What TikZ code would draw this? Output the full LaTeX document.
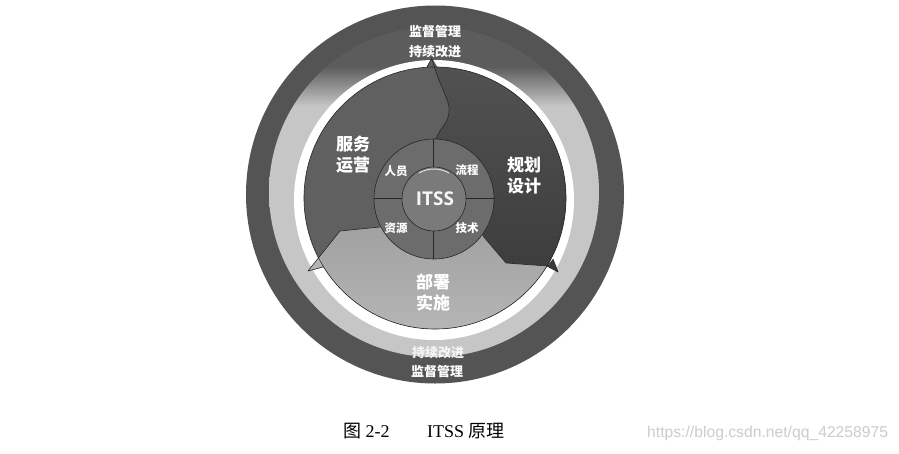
\documentclass[tikz,border=0pt]{standalone}
\usepackage{fontspec}
\setmainfont{Liberation Serif}
\newfontfamily\cjk{Noto Sans CJK SC}
\newfontfamily\itssfont{Open Sans}
\newfontfamily\wmfont{Liberation Sans}
\definecolor{outerdark}{HTML}{545454}
\definecolor{ringlight}{HTML}{C6C6C6}
\definecolor{ringdark}{HTML}{5C5C5C}
\definecolor{opsgray}{HTML}{606060}
\definecolor{plantop}{HTML}{585858}
\definecolor{planbot}{HTML}{3A3A3A}
\definecolor{deptop}{HTML}{9C9C9C}
\definecolor{depbot}{HTML}{B8B8B8}
\definecolor{innerring}{HTML}{6C6C6C}
\definecolor{itssgray}{HTML}{7A7A7A}
\definecolor{edgecol}{HTML}{262626}
\pgfdeclareverticalshading{ringshade}{100bp}{color(0bp)=(ringlight); color(63bp)=(ringlight); color(69bp)=(ringdark); color(100bp)=(ringdark)}
\tikzset{
  ringtxt/.style={font=\cjk\bfseries\fontsize{13}{13}\selectfont, text=white, inner sep=0pt},
  bigtxt/.style={font=\cjk\bfseries\fontsize{17}{21}\selectfont, text=white, align=center, inner sep=0pt},
  smalltxt/.style={font=\cjk\bfseries\fontsize{11.5}{12}\selectfont, text=white, inner sep=0pt},
  edge/.style={draw=edgecol, line width=0.6pt, line join=round},
}
\begin{document}
\begin{tikzpicture}[x=1pt,y=-1pt]
\useasboundingbox (0,0) rectangle (899,453);
\fill[white] (0,0) rectangle (899,453);
% rings
\fill[outerdark] (435,194.5) circle (189);
\shade[shading=ringshade] (434,192) circle (165);
\fill[white] (434,200) circle (140);
% disk
\coordinate (dc) at (435,198);
\fill[opsgray] (dc) circle (131);
\begin{scope}
  \clip (dc) circle (131);
  \shade[top color=plantop, bottom color=planbot]
    (432,0) -- plot[smooth, tension=0.6] coordinates {(432,59) (437,75) (444,92) (449,107) (447,120) (440,131) (435,141)}
    -- (434,199) -- (483,236) -- (506,263) -- (547,266) -- (558,272) -- (620,300) -- (620,0) -- cycle;
  \shade[top color=deptop, bottom color=depbot]
    (308,271) -- (340,231) -- (380,227) -- (434,199) -- (483,236) -- (506,263) -- (547,266) -- (558,272)
    -- (600,345) -- (270,345) -- cycle;
\end{scope}
% arrow tips
\fill[opsgray] (432,58) -- (426,68) -- (438,68) -- cycle;
\fill[depbot!85!deptop] (318,259) -- (308,271) -- (323,267) -- cycle;
\fill[planbot] (547,266) -- (558,272) -- (553,259) -- cycle;
% edges
\draw[edge] (dc) circle (131);
\draw[edge] plot[smooth, tension=0.6] coordinates {(432,59) (437,75) (444,92) (449,107) (447,120) (440,131) (435,141)};
\draw[edge] (432,58) -- (427,67);
\draw[edge] (323,267) -- (308,271) -- (340,231) -- (380,227);
\draw[edge] (483,236) -- (506,263) -- (547,266) -- (558,272) -- (553,259);
% inner ring
\coordinate (ic) at (434,199);
\fill[innerring] (ic) circle (60);
\draw[edge] (ic) circle (60);
\draw[edge] (433,139) -- (433,167);
\draw[edge] (433,231) -- (433,259);
\draw[edge] (374,198) -- (402,198);
\draw[edge] (466,198) -- (494,198);
\fill[itssgray] (ic) circle (32);
\draw[edge] (ic) circle (32);
\draw[white!75!gray, line width=1pt] (ic) ++(-60:30) arc (-60:-120:30);
% texts
\node[ringtxt] (jd1) at (435,32) {监督管理};
\node[ringtxt] (cx1) at (435,52) {持续改进};
\node[ringtxt, text=white!92!gray] (cx2) at (438,353) {持续改进};
\node[ringtxt] (jd2) at (437,372) {监督管理};
\node[bigtxt] (ops) at (353,155) {服务\\运营};
\node[bigtxt] (plan) at (524,176) {规划\\设计};
\node[bigtxt] (dep) at (433,292) {部署\\实施};
\node[smalltxt] (ry) at (396,171) {人员};
\node[smalltxt] (lc) at (467,170) {流程};
\node[smalltxt] (zy) at (396,228) {资源};
\node[smalltxt] (js) at (467,228) {技术};
\node[font=\itssfont\bfseries\fontsize{19}{19}\selectfont, text=white!93!gray, inner sep=0pt] (itss) at (435,199) {ITSS};
% caption
\node[anchor=base west, inner sep=0pt, font=\fontsize{18}{18}\selectfont] (cap1) at (343,437) {{\cjk 图} 2-2};
\node[anchor=base west, inner sep=0pt, font=\fontsize{18}{18}\selectfont] (cap2) at (427,437) {ITSS {\cjk 原理}};
\node[anchor=base west, inner sep=0pt, font=\wmfont\fontsize{15.7}{16}\selectfont, text=black!20] (wm) at (647,437) {https://blog.csdn.net/qq\_42258975};
\end{tikzpicture}
\end{document}
